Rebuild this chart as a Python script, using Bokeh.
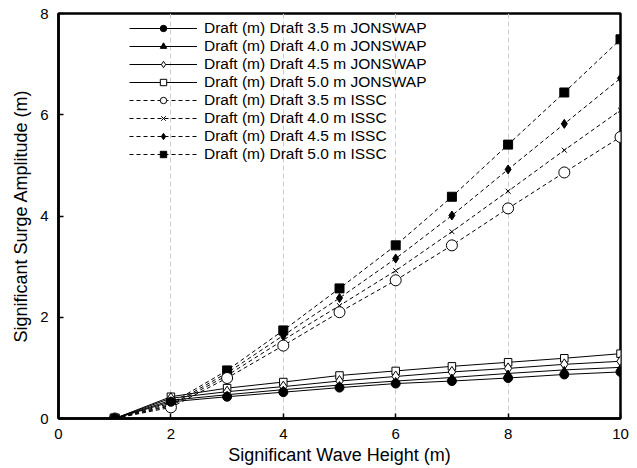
from bokeh.plotting import figure
from bokeh.models import Legend, LegendItem, FixedTicker
from bokeh.embed import file_html
from bokeh.resources import INLINE

# ---- data ----
wave_height = [1, 2, 3, 4, 5, 6, 7, 8, 9, 10]

jonswap_35 = [0.0, 0.33, 0.43, 0.52, 0.61, 0.69, 0.74, 0.80, 0.87, 0.92]
jonswap_40 = [0.0, 0.36, 0.47, 0.57, 0.66, 0.74, 0.81, 0.89, 0.96, 1.01]
jonswap_45 = [0.0, 0.40, 0.53, 0.63, 0.74, 0.83, 0.92, 0.99, 1.07, 1.13]
jonswap_50 = [0.0, 0.43, 0.60, 0.72, 0.85, 0.94, 1.03, 1.11, 1.19, 1.28]

issc_35 = [0.0, 0.22, 0.80, 1.44, 2.10, 2.73, 3.42, 4.15, 4.86, 5.56]
issc_40 = [0.0, 0.25, 0.85, 1.55, 2.23, 2.92, 3.69, 4.49, 5.30, 6.09]
issc_45 = [0.0, 0.27, 0.90, 1.64, 2.38, 3.16, 4.01, 4.92, 5.82, 6.72]
issc_50 = [0.0, 0.30, 0.95, 1.74, 2.57, 3.42, 4.38, 5.41, 6.44, 7.49]

labels = [
    "Draft (m) Draft 3.5 m JONSWAP",
    "Draft (m) Draft 4.0 m JONSWAP",
    "Draft (m) Draft 4.5 m JONSWAP",
    "Draft (m) Draft 5.0 m JONSWAP",
    "Draft (m) Draft 3.5 m ISSC",
    "Draft (m) Draft 4.0 m ISSC",
    "Draft (m) Draft 4.5 m ISSC",
    "Draft (m) Draft 5.0 m ISSC",
]
series = [jonswap_35, jonswap_40, jonswap_45, jonswap_50,
          issc_35, issc_40, issc_45, issc_50]

x_ticks = [0, 2, 4, 6, 8, 10]
y_ticks = [0, 2, 4, 6, 8]

# ---- styles ----
styles = [
    dict(marker="circle", size=9, fill="black", dash="solid"),
    dict(marker="triangle", size=6, fill="black", dash="solid"),
    dict(marker="diamond", size=11, fill="white", dash="solid"),
    dict(marker="square", size=7.5, fill="white", dash="solid"),
    dict(marker="circle", size=11, fill="white", dash="4 3"),
    dict(marker="x", size=7, fill="black", dash="4 3"),
    dict(marker="diamond", size=9, fill="black", dash="4 3"),
    dict(marker="square", size=9, fill="black", dash="4 3"),
]

FONT = "Liberation Sans"

p = figure(width=637, height=468, x_range=(0, 10), y_range=(0, 8),
           output_backend="svg", toolbar_location=None,
           min_border_left=58, min_border_right=17,
           min_border_top=13, min_border_bottom=50)

p.background_fill_color = "white"
p.border_fill_color = "white"
p.outline_line_color = "black"
p.outline_line_width = 2.5

p.xaxis.ticker = FixedTicker(ticks=x_ticks)
p.yaxis.ticker = FixedTicker(ticks=y_ticks)
for ax in (p.xaxis[0], p.yaxis[0]):
    ax.axis_line_width = 2.5
    ax.axis_line_color = "black"
    ax.major_tick_in = 5
    ax.major_tick_out = 0
    ax.major_tick_line_width = 1.5
    ax.minor_tick_line_color = None
    ax.major_label_text_font = FONT
    ax.major_label_text_font_size = "15px"
    ax.major_label_text_color = "black"
    ax.axis_label_text_font = FONT
    ax.axis_label_text_font_size = "18px"
    ax.axis_label_text_font_style = "normal"
    ax.axis_label_text_color = "black"

p.xaxis.axis_label = "Significant Wave Height (m)"
p.yaxis.axis_label = "Significant Surge Amplitude (m)"
p.xaxis.major_label_standoff = 10
p.xaxis.axis_label_standoff = 3
p.yaxis.major_label_standoff = 10
p.yaxis.axis_label_standoff = 6

p.xgrid.ticker = FixedTicker(ticks=x_ticks)
p.xgrid.grid_line_color = "#cccccc"
p.xgrid.grid_line_dash = "5 3"
p.xgrid.grid_line_width = 1
p.ygrid.grid_line_color = None

items = []
renderers = {}
# draw in reverse order so the first series sits on top
for lab, ys, st in reversed(list(zip(labels, series, styles))):
    r1 = p.line(wave_height, ys, line_color="black", line_width=1,
                line_dash=st["dash"])
    r2 = p.scatter(wave_height, ys, marker=st["marker"], size=st["size"],
                   fill_color=st["fill"], line_color="black", line_width=1)
    renderers[lab] = [r1, r2]
for lab in labels:
    items.append(LegendItem(label=lab, renderers=renderers[lab]))

legend = Legend(items=items, location=(71, 255))
legend.background_fill_alpha = 0
legend.border_line_color = None
legend.padding = 0
legend.margin = 0
legend.spacing = 0
legend.glyph_width = 68
legend.glyph_height = 16
legend.label_height = 16
legend.label_standoff = 7
legend.label_text_font = FONT
legend.label_text_font_size = "15.5px"
legend.label_text_color = "black"
p.add_layout(legend, "center")

open("out.html", "w").write(file_html(p, INLINE))
